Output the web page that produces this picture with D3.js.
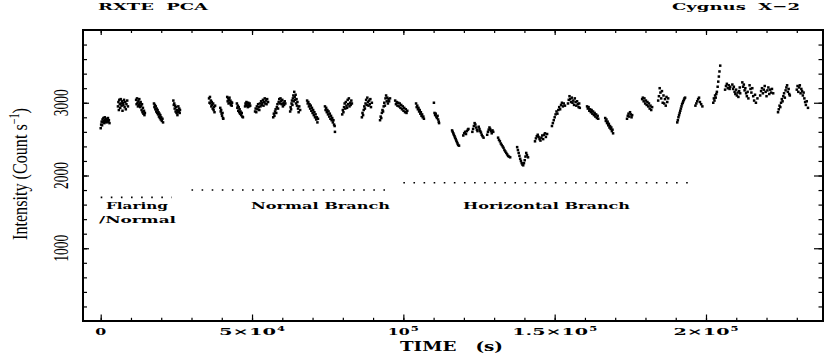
<!DOCTYPE html>
<html><head><meta charset="utf-8">
<script src="https://cdn.jsdelivr.net/npm/d3@7"></script>
<style>
body{margin:0;background:#fff}
svg{display:block}
text{white-space:pre}
</style>
</head><body>
<svg id="chart" width="826" height="354"></svg>
<script>
// ---------------- DATA ----------------
// observation time (s) and PCA count rate (counts/s), one line per data segment
const obsTime = [
  0,150,300,450,600,750,900,1050,1200,1350,1500,1650,1800,1950,2100,2250,2400,2550,2700,2900,
  5700,5850,6000,6150,6300,6450,6600,6750,6900,7050,7200,7350,7500,7700,7900,8100,8300,8500,8750,9000,
  11700,11850,12000,12150,12300,12450,12600,12750,12900,13050,13200,13350,13500,13650,13800,13950,14100,14300,14450,14600,
  17600,17750,17900,18050,18200,18350,18500,18650,18800,18950,19100,19250,19400,19550,19700,19850,20000,20200,20400,20600,
  24000,24150,24300,24450,24600,24750,24900,25050,25200,25350,25500,25650,25800,25950,26100,26200,
  35800,35950,36100,36250,36400,36550,36700,36850,37000,37150,37300,37450,37600,37800,
  39500,39650,39800,39950,40100,40250,40400,40500,
  41800,41950,42100,42250,42400,42550,42700,42850,43000,43150,43300,43400,
  45000,45150,45300,45450,45600,45750,45900,46050,46200,46400,46600,46800,47000,
  47700,47850,48000,48150,48300,48450,48600,48750,48900,49050,49200,49400,
  51000,51200,51400,51600,51800,52000,52200,52400,52600,52800,53000,53200,53400,53600,53800,54000,54200,54400,54600,54800,55000,55300,
  57000,57200,57400,57600,57800,58000,58200,58400,58600,58800,59000,59200,59400,59600,59800,60000,60200,60400,60600,60800,61000,
  62600,62750,62900,63050,63200,63350,63500,63650,63800,63950,64100,64250,64400,64550,64700,64850,65000,65200,65400,65600,65900,
  68200,68400,68600,68800,69000,69200,69400,69600,69800,70000,70200,70400,70600,70800,71000,71200,71400,71600,71800,
  74100,74300,74500,74700,74900,75100,75300,75500,75700,75900,76100,76300,76500,76700,76900,77100,77300,77400,
  79800,80000,80200,80400,80600,80800,81000,81200,81400,81600,81800,82000,82200,82400,82600,82800,83000,
  86300,86500,86700,86900,87100,87300,87500,87700,87900,88100,88300,88500,88700,88900,89100,89300,89600,
  92300,92500,92700,92900,93100,93300,93500,93700,93900,94100,94300,94500,94700,94900,95100,95300,95600,
  97300,97550,97800,98050,98300,98550,98800,99050,99300,99550,99800,100050,100300,100550,100800,101050,101300,
  104200,104400,104600,104800,105000,105200,105400,105600,105800,106000,106200,106400,106600,106800,
  110100,110300,110500,110700,110900,111100,111300,111500,111700,111800,
  116100,116300,116500,116700,116900,117100,117300,117500,117700,117900,118100,118400,
  119800,120100,120400,120700,121000,121300,121500,
  122800,123050,123300,123550,123800,124050,124300,124500,
  124900,125150,125400,125650,125900,126150,126500,
  127700,127950,128200,128450,128700,128950,129200,129450,129700,
  131300,131600,131900,132200,132500,132800,133100,133400,133700,134000,134300,134600,134900,135300,
  137600,137850,138100,138350,138600,138850,139100,139350,139600,139850,140100,140350,140600,140850,141200,
  143500,143800,144100,144400,144700,145000,145300,145600,145900,146200,146500,146800,147100,147500,
  149100,149400,149700,150000,150300,150600,150900,151200,151500,151800,152100,152400,152700,153000,153400,
  154400,154650,154900,155150,155400,155650,155900,156150,156400,156650,156900,157150,157400,157650,157900,158100,158300,
  160700,160950,161200,161450,161700,161950,162200,162450,162700,162950,163200,163450,163700,163950,164200,164400,
  166700,166900,167100,167300,167500,167700,167900,168100,168300,168500,168700,168900,169100,169300,
  173900,174150,174400,174650,174900,175150,175400,175600,
  178900,179150,179400,179650,179900,180150,180400,180650,180900,181150,181400,181650,181900,182200,
  184200,184450,184700,184950,185200,185450,185700,185950,186200,186450,186700,186950,187200,187500,
  190500,190700,190900,191100,191300,191500,191700,191900,192100,192300,192500,192700,192900,193100,
  196500,196800,197100,197400,197700,198000,198400,198800,
  202400,202600,202800,203000,203200,203400,203600,203850,204050,204250,204450,204700,
  206300,206600,206900,207200,207500,207800,208000,
  208700,208950,209200,209450,209700,209950,210200,210450,210700,210950,211150,211300,
  212000,212250,212500,212750,213000,213250,213500,213750,214000,214400,214700,215000,215300,215600,215900,216200,216500,217000,
  217900,218200,218500,218800,219100,219400,219700,220000,220300,220600,220900,221200,221500,221800,222200,
  223800,224050,224300,224550,224800,225050,225300,225550,225800,226050,226300,226550,226800,227050,227300,227500,227700,
  230000,230250,230500,230750,231000,231250,231500,231750,232000,232250,232500,232750,233000,233300,233700
];
const countRate = [
  2650,2700,2740,2690,2770,2730,2790,2750,2720,2800,2760,2740,2780,2730,2770,2750,2790,2740,2760,2720,
  2950,3010,2900,3040,2980,2930,3050,2990,2960,3020,2890,3000,2970,3040,2940,3010,2910,2980,3030,2950,
  3040,2980,3060,3000,2950,3020,2970,3050,2990,2940,3010,2960,2900,2980,2870,2930,2850,2890,2830,2860,
  2990,2940,2970,2910,2950,2880,2920,2860,2900,2840,2870,2810,2850,2790,2830,2770,2800,2750,2780,2730,
  3030,2970,2990,2920,2960,2880,2940,2860,2900,2830,2870,2950,2890,2920,2860,2900,
  3060,3000,3080,2990,3030,2950,3010,2970,2920,2990,2900,2940,2870,2960,
  2930,2880,2900,2850,2820,2860,2790,2780,
  3080,3020,3060,2990,3040,3070,3000,3030,2970,3010,2960,3000,
  2990,2930,2960,2890,2940,2870,2910,2850,2880,2830,2860,2810,2800,
  2950,2990,2970,3010,2960,2990,2940,3000,2970,2950,2990,2960,
  2880,2920,2870,2950,2910,2980,2940,2900,2990,2950,3020,2970,3000,3040,2960,3010,3060,2990,3030,2980,3050,3010,
  2800,2850,2820,2880,2910,2860,2940,2980,2920,3010,3050,2990,3060,3020,2980,3040,2950,3000,2970,3020,2990,
  2880,2940,2910,2990,3030,2970,3060,3100,3020,3150,3080,3040,3110,2990,3050,2960,3010,2920,2870,2950,2900,
  3030,2990,3010,2950,2980,2920,2960,2890,2930,2860,2900,2830,2870,2800,2840,2770,2800,2730,2780,
  2950,2900,2930,2870,2900,2840,2880,2810,2850,2780,2820,2760,2790,2730,2760,2700,2680,2600,
  2840,2900,2870,2940,2990,2920,3010,2960,2930,3040,2980,3060,2950,3000,2970,3030,2990,
  2800,2860,2830,2900,2950,2920,2990,3040,2970,3070,3010,2960,3030,2980,3050,2940,3000,
  2760,2810,2790,2860,2900,2880,2950,3000,2960,3060,3100,3020,3070,2990,3050,3020,3060,
  3030,2980,3010,2960,3000,2950,2990,2930,2970,2910,2950,2890,2930,2870,2910,2860,2890,
  2990,2940,2960,2910,2930,2880,2900,2850,2870,2820,2840,2800,2810,2780,
  3000,2860,2830,2850,2810,2790,2820,2770,2740,2720,
  2620,2600,2580,2560,2540,2520,2500,2480,2460,2440,2420,2410,
  2550,2580,2600,2570,2610,2630,2640,
  2600,2640,2680,2720,2700,2660,2630,2610,
  2670,2640,2610,2590,2560,2540,2520,
  2560,2600,2630,2660,2640,2610,2580,2620,2600,
  2520,2490,2470,2440,2420,2400,2380,2350,2330,2310,2290,2270,2260,2250,
  2390,2350,2310,2270,2230,2200,2170,2150,2140,2170,2210,2260,2310,2280,2250,
  2470,2510,2540,2560,2530,2500,2480,2520,2550,2500,2560,2580,2530,2570,
  2680,2720,2760,2800,2840,2880,2850,2900,2940,2910,2970,3000,2950,2990,2960,
  2990,3040,3090,3050,3010,3070,3000,3030,2970,3060,3010,2960,3020,2980,2940,2990,2930,
  2950,2920,2940,2890,2910,2870,2900,2850,2880,2830,2860,2810,2840,2790,2820,2780,
  2790,2750,2770,2720,2740,2690,2710,2660,2680,2640,2660,2610,2630,2580,
  2780,2820,2850,2810,2870,2840,2800,2830,
  3050,3070,3020,3060,2990,3030,2970,3010,2950,2990,2920,2960,2900,2940,
  3030,3090,3200,3140,3060,3160,3000,3100,2990,3050,2960,3080,3010,3060,
  2730,2760,2800,2830,2860,2890,2920,2950,2980,3000,3020,3040,3060,3070,
  2960,2990,3020,3050,3070,3010,2980,2950,
  3000,3060,3030,3100,3070,3120,3150,3220,3290,3360,3430,3510,
  3180,3230,3260,3200,3240,3190,3220,
  3250,3190,3220,3150,3120,3180,3100,3140,3080,3160,3210,3130,
  3280,3220,3250,3170,3200,3130,3090,3150,3060,3240,3190,3140,3200,3090,3030,3110,3000,3060,
  3100,3160,3200,3130,3180,3230,3150,3090,3170,3210,3120,3180,3140,3190,3130,
  2870,2910,2960,2940,3000,3050,3020,3090,3130,3070,3170,3210,3240,3150,3190,3120,3100,
  3180,3230,3150,3210,3240,3130,3190,3160,3100,3140,3060,3010,2970,3020,2930
];
const xMajorTicks = [0, 50000, 100000, 150000, 200000];
const xTickBase = ["0", "5×10", "10", "1.5×10", "2×10"];
const xTickExp = ["", "4", "5", "5", "5"];
const yMajorTicks = [1000, 2000, 3000];
const yTickLabels = ["1000", "2000", "3000"];
const branchStart = [0, 30000, 100000];
const branchEnd = [23500, 96500, 196500];
const branchLevel = [1700, 1800, 1900];

// ---------------- DRAW ----------------
const svg = d3.select("#chart");
const L = 83, R = 823, T = 30, B = 321;
const x = d3.scaleLinear().domain([-5850, 238660]).range([L, R]);
const y = d3.scaleLinear().domain([0, 4000]).range([B, T]);

const boldSerif = "'DejaVu Serif', serif";
const timesFont = "'Liberation Serif', 'Times New Roman', serif";

// axes ticks (inward)
const xMinor = d3.range(0, 240000, 10000);
const yMinor = d3.range(200, 4000, 200);
function styleAxis(g){ g.select(".domain").remove(); g.selectAll("line").attr("stroke","#000").attr("stroke-width",1.2); g.selectAll("text").remove(); }
svg.append("g").attr("transform",`translate(0,${B})`).call(d3.axisBottom(x).tickValues(xMinor).tickSize(-3.2)).call(styleAxis);
svg.append("g").attr("transform",`translate(0,${B})`).call(d3.axisBottom(x).tickValues(xMajorTicks).tickSize(-6.5)).call(styleAxis);
svg.append("g").attr("transform",`translate(0,${T})`).call(d3.axisTop(x).tickValues(xMinor).tickSize(-3)).call(styleAxis);
svg.append("g").attr("transform",`translate(0,${T})`).call(d3.axisTop(x).tickValues(xMajorTicks).tickSize(-5)).call(styleAxis);
svg.append("g").attr("transform",`translate(${L},0)`).call(d3.axisLeft(y).tickValues(yMinor).tickSize(-4)).call(styleAxis);
svg.append("g").attr("transform",`translate(${L},0)`).call(d3.axisLeft(y).tickValues(yMajorTicks).tickSize(-6)).call(styleAxis);
svg.append("g").attr("transform",`translate(${R},0)`).call(d3.axisRight(y).tickValues(yMinor).tickSize(-4.5)).call(styleAxis);
svg.append("g").attr("transform",`translate(${R},0)`).call(d3.axisRight(y).tickValues(yMajorTicks).tickSize(-9)).call(styleAxis);

// frame
svg.append("rect").attr("x",L).attr("y",T).attr("width",R-L).attr("height",B-T)
  .attr("fill","none").attr("stroke","#000").attr("stroke-width",2);

// data points
const pts = d3.range(Math.min(obsTime.length, countRate.length)).map(i => [obsTime[i], countRate[i]]);
svg.append("g").selectAll("rect").data(pts).join("rect")
  .attr("x", d => x(d[0]) - 1.25).attr("y", d => y(d[1]) - 1.25)
  .attr("width", 2.5).attr("height", 2.5).attr("fill", "#000");

// branch dotted lines
svg.append("g").selectAll("line").data(branchStart).join("line")
  .attr("x1", (d,i) => x(d)).attr("x2", (d,i) => x(branchEnd[i]))
  .attr("y1", (d,i) => y(branchLevel[i])).attr("y2", (d,i) => y(branchLevel[i]))
  .attr("stroke","#000").attr("stroke-width",1.6).attr("stroke-dasharray","1.6,8.5");

// helper for stretched text
function txt(s, x0, yb, len, size, font, weight, anchor){
  const t = svg.append("text").attr("x",x0).attr("y",yb).attr("font-family",font)
    .attr("font-size",size).attr("font-weight",weight||"bold").attr("fill","#000")
    .attr("text-anchor",anchor||"start").text(s);
  if (len) t.attr("textLength",len).attr("lengthAdjust","spacingAndGlyphs");
  return t;
}

// branch labels
txt("Flaring", 106, 208.5, 62, 10, boldSerif);
txt("/Normal", 99, 222.5, 77, 10, boldSerif);
txt("Normal Branch", 251, 208.5, 139, 10, boldSerif);
txt("Horizontal Branch", 463, 208.5, 167, 10, boldSerif);

// titles
txt("RXTE  PCA", 98, 9.8, 110, 10, boldSerif);
txt("Cygnus  X\u22122", 672, 9.8, 128, 10, boldSerif);

// x tick labels (base + exponent)
const baseW = {"0":11, "5×10":57, "10":22, "1.5×10":76, "2×10":56};
xMajorTicks.forEach((v,i) => {
  const b = xTickBase[i], e = xTickExp[i];
  const bw = baseW[b], ew = e ? 9 : 0;
  const start = x(v) - (bw + ew) / 2;
  txt(b, start, 335, bw, 10, boldSerif);
  if (e) txt(e, start + bw + 1, 330.5, 8, 8, boldSerif);
});
txt("TIME   (s)", 400, 350.7, 103, 12, boldSerif);

// y tick labels (rotated)
yMajorTicks.forEach((v,i) => {
  svg.append("text").attr("transform",`translate(68,${y(v)}) rotate(-90)`)
    .attr("text-anchor","middle").attr("font-family",timesFont).attr("font-size",22)
    .attr("textLength",27).attr("lengthAdjust","spacingAndGlyphs").attr("fill","#000")
    .text(yTickLabels[i]);
});

// y axis label
const yl = svg.append("text").attr("transform","translate(26.5,174) rotate(-90)")
  .attr("text-anchor","middle").attr("font-family",timesFont).attr("font-size",22)
  .attr("fill","#000").attr("textLength",132).attr("lengthAdjust","spacingAndGlyphs");
yl.append("tspan").text("Intensity (Count s");
yl.append("tspan").attr("dy",-8).attr("font-size",14).text("\u22121");
yl.append("tspan").attr("dy",8).text(")");
</script>
</body></html>
